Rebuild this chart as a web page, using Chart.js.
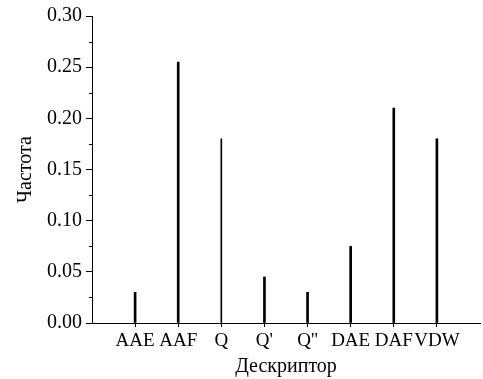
<!DOCTYPE html>
<html>
<head>
<meta charset="utf-8">
<script src="https://cdn.jsdelivr.net/npm/chart.js@4"></script>
<style>
html,body{margin:0;padding:0;background:#fff;}
#wrap{width:483px;height:379px;position:relative;}
</style>
</head>
<body>
<div id="wrap"><canvas id="c" width="483" height="379"></canvas></div>
<script>
const categories = ['AAE', 'AAF', 'Q', "Q'", "Q''", 'DAE', 'DAF', 'VDW'];
const frequencies = [0.030, 0.255, 0.180, 0.045, 0.030, 0.075, 0.210, 0.180];
const yTicks = [0.00, 0.05, 0.10, 0.15, 0.20, 0.25, 0.30];
const thinCategories = ['Q'];

const labels = [''].concat(categories, ['']);
const thickData = [null].concat(categories.map((c, i) => thinCategories.includes(c) ? null : frequencies[i]), [null]);
const thinData = [null].concat(categories.map((c, i) => thinCategories.includes(c) ? frequencies[i] : null), [null]);

const FONT = '"Liberation Serif", "Times New Roman", serif';

const minorTicks = {
  id: 'minorTicks',
  afterDraw(chart) {
    const y = chart.scales.y;
    const ctx = chart.ctx;
    ctx.save();
    ctx.strokeStyle = '#000';
    ctx.lineWidth = 1;
    for (let i = 0; i < yTicks.length - 1; i++) {
      const v = (yTicks[i] + yTicks[i + 1]) / 2;
      const py = Math.round(y.getPixelForValue(v)) + 0.5;
      ctx.beginPath();
      ctx.moveTo(y.right - 3, py);
      ctx.lineTo(y.right, py);
      ctx.stroke();
    }
    ctx.restore();
  }
};

new Chart(document.getElementById('c'), {
  type: 'bar',
  data: {
    labels: labels,
    datasets: [
      { data: thickData, backgroundColor: '#000', barThickness: 2, grouped: false },
      { data: thinData, backgroundColor: '#000', barThickness: 1, grouped: false }
    ]
  },
  options: {
    responsive: false,
    animation: false,
    layout: { padding: { left: 0, right: 3, top: 14, bottom: 0 } },
    plugins: { legend: { display: false }, tooltip: { enabled: false } },
    scales: {
      x: {
        offset: false,
        grid: {
          display: true,
          offset: false,
          drawOnChartArea: false,
          drawTicks: true,
          tickLength: 4,
          tickColor: (ctx) => (ctx.tick && ctx.tick.label === '') ? 'rgba(0,0,0,0)' : '#000'
        },
        border: { display: true, color: '#000', width: 1 },
        ticks: {
          color: '#000',
          font: { family: FONT, size: 19 },
          padding: 3,
          autoSkip: false,
          maxRotation: 0
        },
        title: {
          display: true,
          text: 'Дескриптор',
          color: '#000',
          font: { family: FONT, size: 20 },
          padding: { top: 0, bottom: 0 }
        },
        afterFit(scale) { scale.height = 56; }
      },
      y: {
        min: 0,
        max: 0.30,
        afterBuildTicks(scale) { scale.ticks = yTicks.map(v => ({ value: v })); },
        grid: {
          display: true,
          drawOnChartArea: false,
          drawTicks: true,
          tickLength: 6,
          tickColor: '#000'
        },
        border: { display: true, color: '#000', width: 1 },
        ticks: {
          color: '#000',
          font: { family: FONT, size: 20 },
          padding: 4,
          callback: (v) => Number(v).toFixed(2)
        },
        title: {
          display: true,
          text: 'Частота',
          color: '#000',
          font: { family: FONT, size: 20 },
          padding: { top: 14, bottom: 4 }
        },
        afterFit(scale) { scale.width = 92; }
      }
    }
  },
  plugins: [minorTicks]
});
</script>
</body>
</html>
